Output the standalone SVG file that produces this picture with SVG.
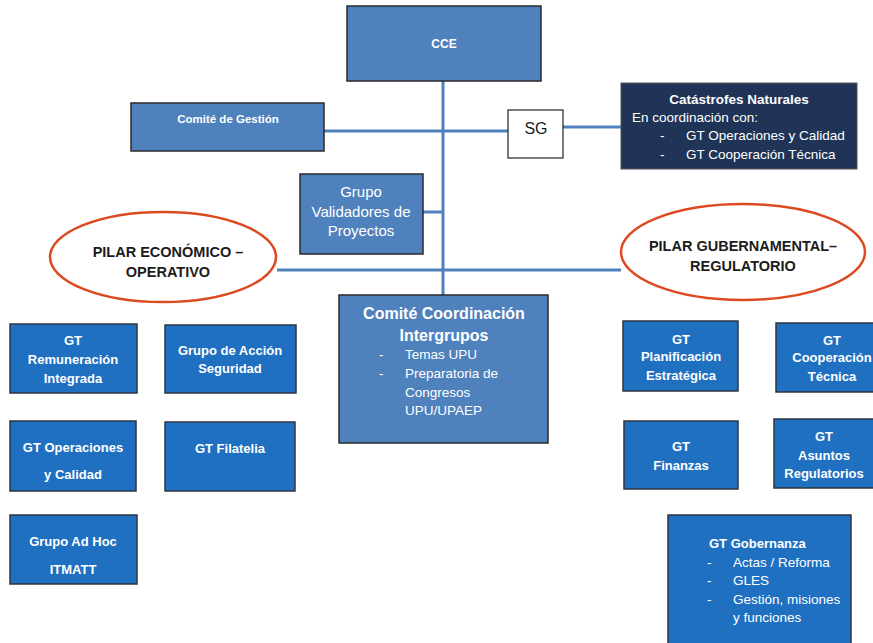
<svg xmlns="http://www.w3.org/2000/svg" width="873" height="643" viewBox="0 0 873 643">
<style>
.mid{fill:#4f81bd;stroke:#2a2a2a;stroke-width:1.5}
.gt{fill:#1f70c1;stroke:#2f3540;stroke-width:1.5}
.navy{fill:#1f3456;stroke:#555;stroke-width:1}
.wb{fill:#fff;stroke:#222;stroke-width:1.2}
.ell{fill:#fff;stroke:#dc4a22;stroke-width:2.5}
.conn line{stroke:#4f81bd;stroke-width:3}
text{font-family:"Liberation Sans",Arial,sans-serif;fill:#fff}
.b{font-weight:bold}
.c{text-anchor:middle}
.dk{fill:#1c1c1c}
</style>
<g id="connectors" class="conn">
<line x1="443" y1="81" x2="443" y2="295"/>
<line x1="324" y1="131" x2="508" y2="131"/>
<line x1="563" y1="127" x2="621" y2="127"/>
<line x1="423" y1="212" x2="443" y2="212"/>
<line x1="277" y1="270" x2="621" y2="270"/>
</g>
<g id="cce"><rect class="mid" x="347" y="6" width="194" height="75"/><text class="b c" x="444" y="48" font-size="12">CCE</text></g>
<g id="comite-gestion"><rect class="mid" x="131" y="103" width="193" height="48"/><text class="b c" x="228" y="123" font-size="11.5">Comité de Gestión</text></g>
<g id="sg"><rect class="wb" x="508" y="110" width="55" height="48"/><text class="c dk" x="536" y="134" font-size="16">SG</text></g>
<g id="catastrofes"><rect class="navy" x="621" y="83" width="236" height="86"/>
<text class="b c" x="739" y="104" font-size="13.5">Catástrofes Naturales</text>
<text x="632" y="122" font-size="13.5">En coordinación con:</text>
<text x="660" y="140" font-size="13.5">-</text><text x="686" y="140" font-size="13.5">GT Operaciones y Calidad</text>
<text x="660" y="159" font-size="13.5">-</text><text x="686" y="159" font-size="13.5">GT Cooperación Técnica</text>
</g>
<g id="validadores"><rect class="mid" x="300" y="174" width="123" height="80"/>
<text class="c" x="361" y="197" font-size="15">Grupo</text>
<text class="c" x="361" y="217" font-size="15">Validadores de</text>
<text class="c" x="361" y="236" font-size="15">Proyectos</text></g>
<g id="pilar-economico"><ellipse class="ell" cx="163" cy="257" rx="113" ry="45"/>
<text class="b c dk" x="168" y="257" font-size="14.5">PILAR ECONÓMICO –</text>
<text class="b c dk" x="168" y="277" font-size="14.5">OPERATIVO</text></g>
<g id="pilar-gubernamental"><ellipse class="ell" cx="743" cy="252" rx="122" ry="48"/>
<text class="b c dk" x="743" y="251" font-size="14.5">PILAR GUBERNAMENTAL–</text>
<text class="b c dk" x="743" y="271" font-size="14.5">REGULATORIO</text></g>
<g id="comite-coordinacion"><rect class="mid" x="339" y="295" width="209" height="148"/>
<text class="b c" x="444" y="319" font-size="16">Comité Coordinación</text>
<text class="b c" x="444" y="341" font-size="16">Intergrupos</text>
<text x="379" y="359" font-size="13.5">-</text><text x="405" y="359" font-size="13.5">Temas UPU</text>
<text x="379" y="378" font-size="13.5">-</text><text x="405" y="378" font-size="13.5">Preparatoria de</text>
<text x="405" y="397" font-size="13.5">Congresos</text>
<text x="405" y="415" font-size="13.5">UPU/UPAEP</text></g>
<g id="gt-remuneracion"><rect class="gt" x="10" y="324" width="127" height="69"/>
<text class="b c" x="73" y="345" font-size="13">GT</text>
<text class="b c" x="73" y="364" font-size="13">Remuneración</text>
<text class="b c" x="73" y="383" font-size="13">Integrada</text></g>
<g id="grupo-accion"><rect class="gt" x="165" y="325" width="131" height="68"/>
<text class="b c" x="230" y="355" font-size="13">Grupo de Acción</text>
<text class="b c" x="230" y="373" font-size="13">Seguridad</text></g>
<g id="gt-operaciones"><rect class="gt" x="10" y="421" width="126" height="70"/>
<text class="b c" x="73" y="452" font-size="13">GT Operaciones</text>
<text class="b c" x="73" y="479" font-size="13">y Calidad</text></g>
<g id="gt-filatelia"><rect class="gt" x="165" y="422" width="130" height="69"/>
<text class="b c" x="230" y="453" font-size="13">GT Filatelia</text></g>
<g id="grupo-adhoc"><rect class="gt" x="10" y="515" width="127" height="69"/>
<text class="b c" x="73" y="546" font-size="13">Grupo Ad Hoc</text>
<text class="b c" x="73" y="574" font-size="13">ITMATT</text></g>
<g id="gt-planificacion"><rect class="gt" x="623" y="321" width="115" height="70"/>
<text class="b c" x="681" y="344" font-size="13">GT</text>
<text class="b c" x="681" y="361" font-size="13">Planificación</text>
<text class="b c" x="681" y="380" font-size="13">Estratégica</text></g>
<g id="gt-cooperacion"><rect class="gt" x="776" y="323" width="110" height="69"/>
<text class="b c" x="832" y="345" font-size="13">GT</text>
<text class="b c" x="832" y="362" font-size="13">Cooperación</text>
<text class="b c" x="832" y="381" font-size="13">Técnica</text></g>
<g id="gt-finanzas"><rect class="gt" x="624" y="421" width="114" height="68"/>
<text class="b c" x="681" y="451" font-size="13">GT</text>
<text class="b c" x="681" y="470" font-size="13">Finanzas</text></g>
<g id="gt-asuntos"><rect class="gt" x="774" y="419" width="110" height="69"/>
<text class="b c" x="824" y="441" font-size="13">GT</text>
<text class="b c" x="824" y="460" font-size="13">Asuntos</text>
<text class="b c" x="824" y="478" font-size="13">Regulatorios</text></g>
<g id="gt-gobernanza"><rect class="gt" x="668" y="515" width="183" height="135"/>
<text class="b" x="709" y="548" font-size="13">GT Gobernanza</text>
<text x="707" y="567" font-size="13.5">-</text><text x="733" y="567" font-size="13.5">Actas / Reforma</text>
<text x="707" y="585" font-size="13.5">-</text><text x="733" y="585" font-size="13.5">GLES</text>
<text x="707" y="604" font-size="13.5">-</text><text x="733" y="604" font-size="13.5">Gestión, misiones</text>
<text x="733" y="622" font-size="13.5">y funciones</text></g>
</svg>
